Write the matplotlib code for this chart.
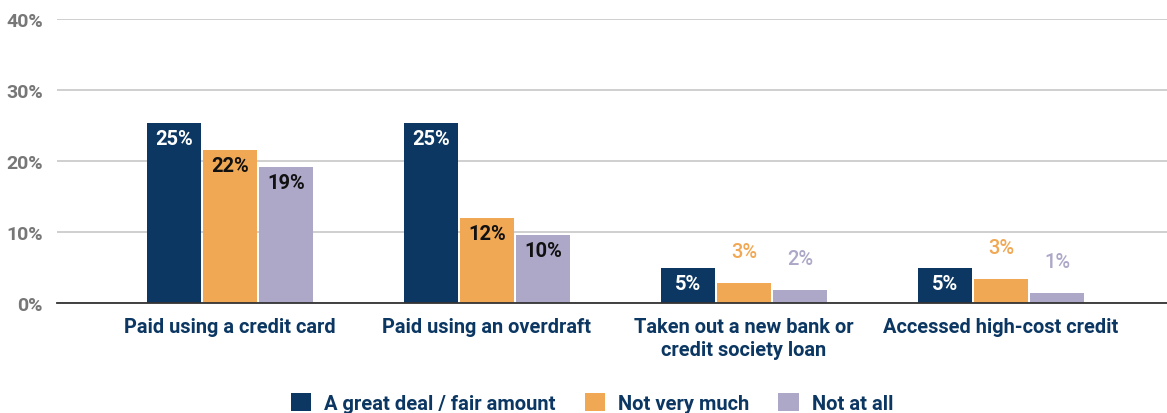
import matplotlib.pyplot as plt
import numpy as np

plt.rcParams['font.family'] = ['Roboto', 'DejaVu Sans']

categories = ['Paid using a credit card', 'Paid using an overdraft',
              'Taken out a new bank or\ncredit society loan', 'Accessed high-cost credit']
series_names = ['A great deal / fair amount', 'Not very much', 'Not at all']
great_deal = [25.4, 25.4, 4.9, 4.9]
not_very_much = [21.6, 12.0, 2.8, 3.4]
not_at_all = [19.1, 9.6, 1.8, 1.4]
yticks = [0, 10, 20, 30, 40]

colors = ['#0b3762', '#f0a855', '#ada7c8']
inside_text = ['white', '#111111', '#111111']
navy = '#0b3762'


def main():
    fig = plt.figure(figsize=(11.67, 4.14), dpi=100)
    ax = fig.add_axes([57 / 1167, 110 / 414, 1 - 57 / 1167, 284 / 414])

    x = np.arange(len(categories))
    width = 0.212
    step = 0.218
    series = [great_deal, not_very_much, not_at_all]

    for i, (vals, name) in enumerate(zip(series, series_names)):
        pos = x + (i - 1) * step
        ax.bar(pos, vals, width, color=colors[i], label=name, zorder=3)
        for px, v in zip(pos, vals):
            txt = f'{v:.0f}%'
            if v >= 4:
                # big enough bar: put the label inside near the top
                ax.text(px, v - 0.85, txt, ha='center', va='top', fontsize=14.5,
                        fontweight='bold', color=inside_text[i], zorder=4)
            else:
                ax.text(px, v + 4.4, txt, ha='center', va='center', fontsize=14.5,
                        fontweight='medium', color=colors[i], zorder=4)

    ax.set_xlim(-0.673, 3.646)
    ax.set_ylim(0, 40)
    ax.set_yticks(yticks)
    ax.set_yticklabels([f'{t}%' for t in yticks], fontsize=14,
                       fontweight='bold', color='#777777')
    ax.set_xticks(x)
    ax.set_xticklabels(categories, fontsize=14.4, fontweight='bold',
                       color=navy, linespacing=1.25, va='top')
    ax.tick_params(axis='both', length=0)
    ax.tick_params(axis='y', pad=10)
    ax.tick_params(axis='x', pad=10)

    ax.grid(axis='y', color='#cccccc', linewidth=1.3, zorder=0)
    for s in ['top', 'right', 'left']:
        ax.spines[s].set_visible(False)
    ax.spines['bottom'].set_color('#333333')
    ax.spines['bottom'].set_linewidth(1.3)
    ax.spines['bottom'].set_zorder(5)

    leg = fig.legend(loc='center', bbox_to_anchor=(592 / 1167, 10 / 414), ncol=3,
                     frameon=False, handlelength=1.0, handleheight=1.0,
                     handletextpad=0.65, columnspacing=1.45,
                     prop={'size': 14.5, 'weight': 'bold'})
    for t in leg.get_texts():
        t.set_color(navy)

    fig.savefig('out.png', dpi=100)


if __name__ == "__main__":
    main()
